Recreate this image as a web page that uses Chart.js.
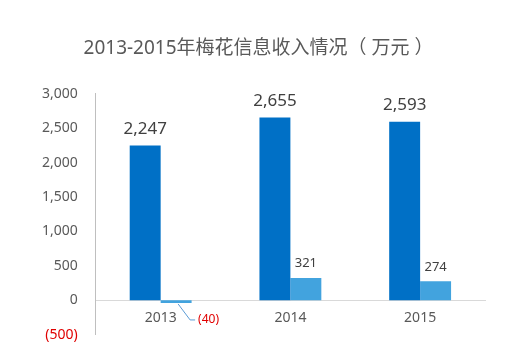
<!DOCTYPE html>
<html>
<head>
<meta charset="utf-8">
<script src="https://cdn.jsdelivr.net/npm/chart.js@4/dist/chart.umd.min.js"></script>
<style>
  html, body { margin: 0; padding: 0; background: #fff; }
  #wrap { width: 522px; height: 353px; }
</style>
</head>
<body>
<div id="wrap"><canvas id="chart-income"></canvas></div>
<script>
// Chart Income
let years = ['2013', '2014', '2015'];
let incomeTotal = [2247, 2655, 2593];
let incomeOther = [-40, 321, 274];
let colorsIncome = ['#0070C6', '#42A3DE'];

let fontFamily = "'Noto Sans', 'Noto Sans CJK SC', sans-serif";

function fmt(v) {
    let s = Math.abs(v).toLocaleString('en-US');
    return v < 0 ? '(' + s + ')' : s;
}

// labels above bars, negative ones get a leader line
let barLabels = {
    id: 'barLabels',
    afterDatasetsDraw(chart) {
        let ctx = chart.ctx;
        ctx.save();
        ctx.textAlign = 'center';
        ctx.textBaseline = 'bottom';
        chart.data.datasets.forEach((ds, i) => {
            let meta = chart.getDatasetMeta(i);
            meta.data.forEach((bar, j) => {
                let v = ds.data[j];
                if (v < 0) {
                    ctx.strokeStyle = '#5B9BD5';
                    ctx.lineWidth = 1;
                    ctx.beginPath();
                    ctx.moveTo(bar.x + 2, bar.y + 1);
                    ctx.lineTo(bar.x + 14, bar.y + 17);
                    ctx.lineTo(bar.x + 19, bar.y + 17);
                    ctx.stroke();
                    ctx.fillStyle = '#E00000';
                    ctx.font = '12px ' + fontFamily;
                    ctx.textAlign = 'left';
                    ctx.textBaseline = 'middle';
                    ctx.fillText(fmt(v), bar.x + 22, bar.y + 17);
                    ctx.textAlign = 'center';
                    ctx.textBaseline = 'bottom';
                    return;
                }
                ctx.fillStyle = '#404040';
                if (i === 0) {
                    ctx.font = '17px ' + fontFamily;
                    ctx.fillText(fmt(v), bar.x, bar.y - 8);
                } else {
                    ctx.font = '13px ' + fontFamily;
                    ctx.fillText(fmt(v), bar.x, bar.y - 8);
                }
            });
        });
        ctx.restore();
    }
};

let chartIncome = document.getElementById('chart-income').getContext('2d');

let chart1 = new Chart(chartIncome, {
    type: 'bar',
    data: {
        labels: years,
        datasets: [
            { label: '收入', data: incomeTotal, backgroundColor: colorsIncome[0] },
            { label: '其他', data: incomeOther, backgroundColor: colorsIncome[1] }
        ]
    },
    options: {
        responsive: true,
        maintainAspectRatio: false,
        animation: false,
        categoryPercentage: 0.477,
        barPercentage: 1,
        layout: { padding: { left: 32, right: 37, bottom: 7 } },
        plugins: {
            legend: { display: false },
            tooltip: { enabled: false },
            title: {
                display: true,
                text: '2013-2015年梅花信息收入情况（ 万元 ）',
                color: '#595959',
                font: { family: fontFamily, size: 19, weight: 'normal' },
                padding: { top: 37, bottom: 34 }
            }
        },
        scales: {
            x: {
                position: { y: 0 },
                grid: { display: false },
                border: { color: '#D9D9D9' },
                ticks: {
                    color: '#595959',
                    padding: 1,
                    font: { family: fontFamily, size: 14 }
                }
            },
            y: {
                min: -500,
                max: 3000,
                grid: { display: false },
                border: { color: '#BFBFBF' },
                ticks: {
                    stepSize: 500,
                    padding: 10,
                    font: { family: fontFamily, size: 14 },
                    color: ctx => ctx.tick.value < 0 ? '#E00000' : '#595959',
                    callback: v => fmt(v)
                }
            }
        }
    },
    plugins: [barLabels]
});
</script>
</body>
</html>
